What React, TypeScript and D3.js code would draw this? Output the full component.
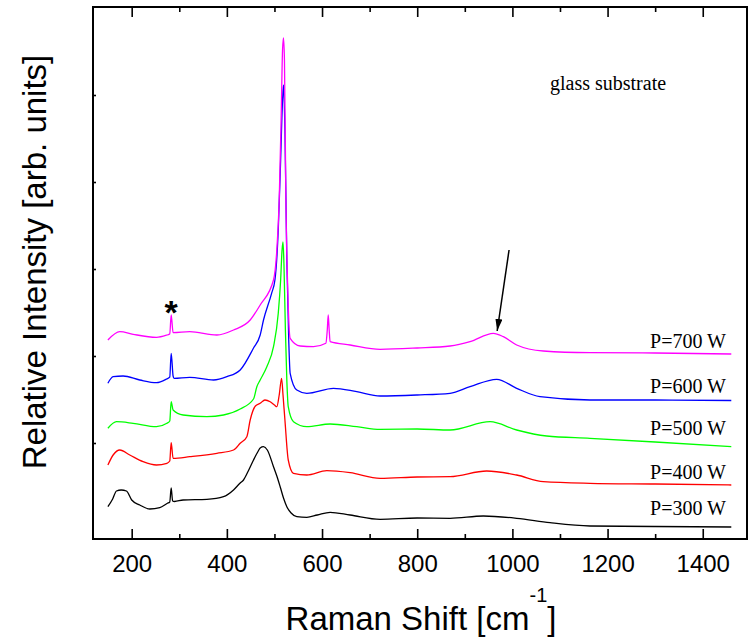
import React, { useEffect, useRef } from "react";
import * as d3 from "d3";

// Raman spectra, one pair of arrays per deposition power (arb. units, stacked)
const shift300 = [150, 160, 168, 178, 189, 200, 217, 238, 259, 275, 280, 283, 286, 290, 308, 358, 393, 414, 428, 435, 445, 456, 466, 470, 477, 485, 498, 505, 512, 519, 526, 535, 547, 568, 590, 617, 659, 722, 800, 869, 939, 1009, 1079, 1163, 1300, 1460];
const int300 = [3.23, 4.0, 4.8, 4.9, 4.8, 3.9, 3.4, 3.0, 3.13, 3.57, 3.7, 5.1, 3.8, 3.75, 3.9, 3.97, 4.23, 4.9, 5.6, 5.9, 6.8, 7.9, 8.8, 9.1, 9.23, 8.9, 7.23, 6.3, 5.23, 4.1, 3.23, 2.6, 2.23, 2.17, 2.4, 2.67, 2.4, 1.97, 2.1, 2.07, 2.3, 2.07, 1.63, 1.3, 1.25, 1.2];

const shift400 = [150, 161, 175, 196, 224, 252, 274, 280, 283, 287, 322, 379, 414, 428, 442, 449, 460, 470, 480, 491, 500, 505, 510, 515, 518, 522, 529, 540, 568, 610, 659, 722, 800, 869, 946, 1009, 1065, 1163, 1300, 1460];
const int400 = [7.4, 8.4, 8.9, 8.4, 7.73, 7.4, 7.57, 7.8, 9.63, 8.07, 8.23, 8.57, 8.9, 9.57, 10.23, 11.9, 13.3, 13.57, 13.9, 13.73, 13.4, 13.23, 14.4, 16.07, 14.4, 11.9, 7.9, 6.57, 6.4, 6.83, 6.63, 6.07, 6.2, 6.23, 6.8, 6.4, 5.73, 5.57, 5.5, 5.4];

const shift500 = [150, 168, 203, 252, 274, 280, 283, 287, 308, 358, 393, 428, 456, 463, 470, 484, 498, 508, 513, 516, 518, 520, 523, 526, 529, 540, 568, 617, 673, 722, 800, 869, 953, 1009, 1072, 1163, 1300, 1460];
const int500 = [11.07, 11.73, 11.57, 11.23, 11.57, 11.8, 13.73, 12.9, 12.4, 12.23, 12.4, 13.0, 14.0, 15.23, 15.9, 17.23, 19.23, 22.57, 25.9, 28.9, 29.7, 27.4, 20.9, 15.9, 13.23, 11.73, 11.23, 11.5, 11.23, 10.97, 11.0, 10.9, 11.73, 10.9, 10.3, 10.07, 9.7, 9.23];

const shift600 = [150, 161, 182, 217, 252, 272, 280, 283, 287, 289, 322, 372, 400, 428, 456, 470, 477, 494, 501, 508, 513, 517, 519, 522, 526, 530, 533, 547, 568, 624, 673, 722, 800, 869, 911, 967, 1009, 1058, 1163, 1300, 1460];
const int600 = [15.57, 16.23, 16.3, 15.9, 15.63, 15.97, 16.2, 18.57, 16.3, 16.07, 16.17, 15.9, 16.23, 16.9, 19.1, 20.4, 21.9, 24.57, 25.9, 30.9, 37.9, 43.9, 45.4, 40.9, 27.9, 19.9, 16.57, 14.9, 14.57, 15.07, 14.73, 14.3, 14.4, 14.57, 15.23, 15.97, 15.07, 14.23, 13.9, 13.9, 13.85];

const shift700 = [150, 175, 203, 252, 274, 280, 283, 287, 322, 379, 414, 449, 470, 498, 505, 510, 514, 517, 519, 521, 524, 528, 533, 554, 582, 608, 611, 613, 615, 617, 659, 722, 800, 869, 911, 960, 981, 1009, 1065, 1163, 1300, 1460];
const int700 = [19.9, 20.73, 20.47, 20.17, 20.4, 20.5, 22.4, 20.63, 20.73, 20.4, 20.9, 21.9, 23.4, 25.9, 28.9, 33.9, 41.9, 48.9, 50.1, 47.9, 33.9, 24.9, 20.07, 19.3, 19.23, 19.57, 20.9, 22.4, 20.9, 19.73, 19.4, 18.97, 19.1, 19.3, 19.73, 20.57, 20.23, 19.4, 18.8, 18.63, 18.6, 18.5];

const seriesNames = ["P=300 W", "P=400 W", "P=500 W", "P=600 W", "P=700 W"];
const seriesColors = ["#000000", "#ff0000", "#00ff00", "#0000ff", "#ff00ff"];
const shifts = [shift300, shift400, shift500, shift600, shift700];
const intensities = [int300, int400, int500, int600, int700];

const xMajorTicks = [200, 400, 600, 800, 1000, 1200, 1400];
const xMinorTicks = [300, 500, 700, 900, 1100, 1300];
const yTicks = [9.6, 18.3, 27.0, 35.7, 44.4];

// glass band marker (cm-1, arb. units)
const arrowFrom = [993, 28.9];
const arrowTo = [968, 20.8];
const siliconLine = 283; // the "*" line

const sans = "'Liberation Sans', Arial, sans-serif";
const serif = "'Liberation Serif', 'Times New Roman', serif";

const App = () => {
  const svgRef = useRef<SVGSVGElement>(null);

  useEffect(() => {
    const svg = d3.select(svgRef.current);
    svg.selectAll("*").remove();
    draw(svg);
  }, []);

  const draw = (svg: any) => {
    const left = 93, right = 747, top = 7, bottom = 539;

    const x = d3.scaleLinear().domain([118.7, 1493]).range([left, right]);
    const y = d3.scaleLinear().domain([0, 53.2]).range([bottom, top]);

    svg.append("rect").attr("width", 751).attr("height", 638).attr("fill", "#fff");

    const defs = svg.append("defs");
    defs
      .append("marker")
      .attr("id", "head")
      .attr("viewBox", "0 0 12 7")
      .attr("markerUnits", "userSpaceOnUse")
      .attr("markerWidth", 12)
      .attr("markerHeight", 7)
      .attr("refX", 12)
      .attr("refY", 3.5)
      .attr("orient", "auto")
      .append("path")
      .attr("d", "M0,0 L12,3.5 L0,7 Z")
      .attr("fill", "#000");

    // spectra
    const line = d3
      .line<number[]>()
      .x((d) => x(d[0]))
      .y((d) => y(d[1]))
      .curve(d3.curveMonotoneX);

    shifts.forEach((s, i) => {
      const pts = s.map((v, j) => [v, intensities[i][j]]);
      svg
        .append("path")
        .attr("d", line(pts))
        .attr("fill", "none")
        .attr("stroke", seriesColors[i])
        .attr("stroke-width", 1.3)
        .attr("stroke-linejoin", "round");
    });

    // labels for each power
    const labelBaselines = [515, 479, 435, 393, 348];
    seriesNames.forEach((name, i) => {
      svg
        .append("text")
        .attr("x", 726)
        .attr("y", labelBaselines[i])
        .attr("text-anchor", "end")
        .attr("font-family", serif)
        .attr("font-size", 20)
        .text(name);
    });

    // axes
    const styleAxis = (g: any) => {
      g.select(".domain").remove();
      g.selectAll("line").attr("stroke-width", 1.6);
    };

    svg
      .append("g")
      .attr("transform", `translate(0,${bottom})`)
      .attr("font-family", sans)
      .attr("font-size", 24)
      .call(d3.axisBottom(x).tickValues(xMajorTicks).tickSizeInner(-10).tickSizeOuter(0).tickPadding(16).tickFormat(d3.format("d")))
      .call(styleAxis)
      .selectAll("text")
      .attr("font-family", sans)
      .attr("font-size", 24);

    svg
      .append("g")
      .attr("transform", `translate(0,${bottom})`)
      .call(d3.axisBottom(x).tickValues(xMinorTicks).tickSizeInner(-5).tickSizeOuter(0).tickFormat(() => ""))
      .call(styleAxis);

    svg
      .append("g")
      .attr("transform", `translate(0,${top})`)
      .call(d3.axisTop(x).tickValues(xMajorTicks).tickSizeInner(-10).tickSizeOuter(0).tickFormat(() => ""))
      .call(styleAxis);

    svg
      .append("g")
      .attr("transform", `translate(0,${top})`)
      .call(d3.axisTop(x).tickValues(xMinorTicks).tickSizeInner(-5).tickSizeOuter(0).tickFormat(() => ""))
      .call(styleAxis);

    svg
      .append("g")
      .attr("transform", `translate(${left},0)`)
      .call(d3.axisLeft(y).tickValues(yTicks).tickSizeInner(-3).tickSizeOuter(0).tickFormat(() => ""))
      .call(styleAxis);

    svg
      .append("rect")
      .attr("x", left)
      .attr("y", top)
      .attr("width", right - left)
      .attr("height", bottom - top)
      .attr("fill", "none")
      .attr("stroke", "#000")
      .attr("stroke-width", 2);

    // annotations
    svg
      .append("text")
      .attr("x", x(siliconLine))
      .attr("y", 324)
      .attr("text-anchor", "middle")
      .attr("font-family", sans)
      .attr("font-weight", "bold")
      .attr("font-size", 34)
      .text("*");

    svg
      .append("line")
      .attr("x1", x(arrowFrom[0]))
      .attr("y1", y(arrowFrom[1]))
      .attr("x2", x(arrowTo[0]))
      .attr("y2", y(arrowTo[1]))
      .attr("stroke", "#000")
      .attr("stroke-width", 1.5)
      .attr("marker-end", "url(#head)");

    svg
      .append("text")
      .attr("x", 550)
      .attr("y", 90)
      .attr("font-family", serif)
      .attr("font-size", 20)
      .text("glass substrate");

    // axis titles
    const xt = svg
      .append("text")
      .attr("x", 421)
      .attr("y", 630)
      .attr("text-anchor", "middle")
      .attr("font-family", sans)
      .attr("font-size", 33);
    xt.append("tspan").text("Raman Shift [cm");
    xt.append("tspan").attr("dy", -28).attr("font-size", 20).text("-1");
    xt.append("tspan").attr("dy", 28).text("]");

    svg
      .append("text")
      .attr("transform", "rotate(-90)")
      .attr("x", -262)
      .attr("y", 46)
      .attr("text-anchor", "middle")
      .attr("font-family", sans)
      .attr("font-size", 33)
      .text("Relative Intensity [arb. units]");
  };

  return (
    <div>
      <svg ref={svgRef} width={751} height={638} style={{ position: "absolute", left: 0, top: 0 }}></svg>
    </div>
  );
};

export default App;
